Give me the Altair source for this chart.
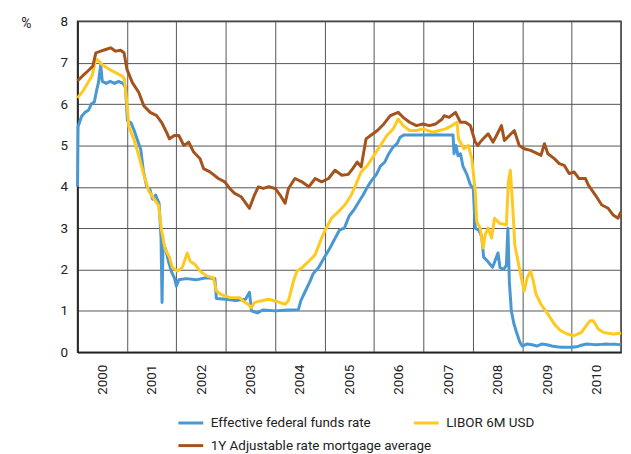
import altair as alt
import pandas as pd

# Effective federal funds rate
fed_t = [2000.00, 2000.01, 2000.08, 2000.15, 2000.22, 2000.28, 2000.34, 2000.38, 2000.42, 2000.47,
         2000.50, 2000.58, 2000.66, 2000.75, 2000.83, 2000.92, 2000.97, 2001.01, 2001.08, 2001.15,
         2001.22, 2001.28, 2001.33, 2001.40, 2001.46, 2001.52, 2001.58, 2001.65, 2001.69, 2001.71,
         2001.73, 2001.78, 2001.84, 2001.90, 2001.96, 2002.00, 2002.05, 2002.20, 2002.40, 2002.60,
         2002.78, 2002.81, 2003.00, 2003.20, 2003.40, 2003.48, 2003.52, 2003.64, 2003.75, 2004.00,
         2004.25, 2004.47, 2004.52, 2004.60, 2004.70, 2004.77, 2004.88, 2005.00, 2005.10, 2005.21,
         2005.30, 2005.40, 2005.50, 2005.60, 2005.70, 2005.78, 2005.87, 2005.95, 2006.05, 2006.13,
         2006.22, 2006.30, 2006.38, 2006.47, 2006.53, 2006.60, 2006.80, 2007.00, 2007.20, 2007.40,
         2007.60, 2007.62, 2007.66, 2007.70, 2007.75, 2007.80, 2007.88, 2007.95, 2008.01, 2008.05,
         2008.12, 2008.18, 2008.22, 2008.30, 2008.40, 2008.51, 2008.55, 2008.62, 2008.68, 2008.71,
         2008.74, 2008.78, 2008.83, 2008.88, 2008.95, 2009.00, 2009.10, 2009.20, 2009.30, 2009.40,
         2009.50, 2009.60, 2009.70, 2009.80, 2009.90, 2010.00, 2010.10, 2010.20, 2010.30, 2010.40,
         2010.50, 2010.60, 2010.70, 2010.80, 2010.90, 2011.00]
fed_v = [4.00, 5.45, 5.70, 5.80, 5.85, 6.00, 6.05, 6.30, 6.50, 6.95,
         6.55, 6.50, 6.55, 6.50, 6.55, 6.50, 6.40, 5.60, 5.55, 5.35,
         5.10, 4.90, 4.40, 4.00, 3.95, 3.70, 3.80, 3.60, 2.75, 1.20,
         2.60, 2.50, 2.20, 1.95, 1.80, 1.60, 1.75, 1.78, 1.75, 1.80,
         1.78, 1.30, 1.28, 1.25, 1.28, 1.45, 1.00, 0.95, 1.02, 1.00,
         1.02, 1.03, 1.25, 1.45, 1.70, 1.90, 2.05, 2.30, 2.50, 2.75,
         2.95, 3.00, 3.30, 3.45, 3.65, 3.80, 4.00, 4.15, 4.30, 4.50,
         4.60, 4.80, 4.95, 5.05, 5.20, 5.25, 5.25, 5.25, 5.26, 5.25,
         5.25, 4.80, 5.00, 4.75, 4.80, 4.50, 4.30, 4.05, 3.95, 3.00,
         2.95, 2.80, 2.30, 2.20, 2.05, 2.40, 2.05, 2.00, 2.10, 3.00,
         1.70, 1.00, 0.70, 0.50, 0.25, 0.15, 0.20, 0.18, 0.15, 0.20,
         0.18, 0.15, 0.13, 0.12, 0.12, 0.12, 0.13, 0.17, 0.20, 0.19,
         0.18, 0.19, 0.20, 0.19, 0.19, 0.18]

# LIBOR 6M USD
libor_t = [2000.00, 2000.10, 2000.20, 2000.30, 2000.36, 2000.40, 2000.50, 2000.64, 2000.77, 2000.90,
           2000.95, 2001.00, 2001.04, 2001.14, 2001.24, 2001.34, 2001.44, 2001.54, 2001.64, 2001.70,
           2001.77, 2001.86, 2001.92, 2002.02, 2002.12, 2002.22, 2002.28, 2002.38, 2002.48, 2002.62,
           2002.75, 2002.81, 2002.90, 2003.08, 2003.28, 2003.35, 2003.45, 2003.52, 2003.58, 2003.70,
           2003.87, 2004.00, 2004.20, 2004.27, 2004.37, 2004.44, 2004.54, 2004.68, 2004.81, 2004.94,
           2005.00, 2005.14, 2005.28, 2005.41, 2005.54, 2005.60, 2005.74, 2005.87, 2006.00, 2006.13,
           2006.26, 2006.39, 2006.49, 2006.59, 2006.72, 2006.86, 2006.99, 2007.18, 2007.32, 2007.45,
           2007.58, 2007.68, 2007.71, 2007.82, 2007.91, 2007.98, 2008.05, 2008.08, 2008.15, 2008.21,
           2008.25, 2008.31, 2008.38, 2008.44, 2008.54, 2008.68, 2008.72, 2008.76, 2008.81, 2008.85,
           2008.94, 2009.04, 2009.10, 2009.17, 2009.22, 2009.28, 2009.38, 2009.52, 2009.65, 2009.78,
           2009.91, 2010.05, 2010.20, 2010.30, 2010.37, 2010.44, 2010.54, 2010.64, 2010.84, 2011.00]
libor_v = [6.15, 6.30, 6.50, 6.70, 7.05, 7.08, 6.95, 6.84, 6.76, 6.68,
           6.60, 6.00, 5.45, 5.15, 4.75, 4.30, 3.90, 3.72, 3.55, 2.95,
           2.50, 2.30, 2.05, 1.96, 2.05, 2.40, 2.20, 2.12, 1.96, 1.84,
           1.80, 1.48, 1.40, 1.32, 1.32, 1.24, 1.16, 1.08, 1.20, 1.24,
           1.28, 1.24, 1.16, 1.25, 1.72, 1.96, 2.04, 2.20, 2.36, 2.76,
           2.92, 3.24, 3.40, 3.56, 3.80, 3.96, 4.36, 4.52, 4.76, 5.00,
           5.24, 5.40, 5.64, 5.48, 5.36, 5.36, 5.40, 5.32, 5.36, 5.40,
           5.48, 5.56, 5.16, 4.92, 5.00, 4.68, 3.88, 3.16, 3.00, 2.52,
           2.84, 3.00, 2.76, 3.24, 3.12, 3.08, 4.12, 4.40, 3.48, 2.60,
           2.04, 1.48, 1.80, 1.96, 1.75, 1.40, 1.16, 0.92, 0.68, 0.52,
           0.44, 0.40, 0.48, 0.65, 0.76, 0.76, 0.56, 0.48, 0.44, 0.46]

# 1Y Adjustable rate mortgage average
arm_t = [2000.00, 2000.10, 2000.21, 2000.31, 2000.37, 2000.47, 2000.57, 2000.67, 2000.77, 2000.87,
         2000.94, 2001.00, 2001.11, 2001.24, 2001.34, 2001.47, 2001.60, 2001.70, 2001.80, 2001.86,
         2001.96, 2002.05, 2002.15, 2002.25, 2002.35, 2002.48, 2002.55, 2002.68, 2002.85, 2002.98,
         2003.08, 2003.18, 2003.31, 2003.48, 2003.58, 2003.66, 2003.76, 2003.87, 2004.00, 2004.10,
         2004.20, 2004.27, 2004.40, 2004.54, 2004.68, 2004.81, 2004.94, 2005.08, 2005.21, 2005.35,
         2005.48, 2005.57, 2005.66, 2005.74, 2005.84, 2005.93, 2006.07, 2006.20, 2006.33, 2006.49,
         2006.59, 2006.72, 2006.86, 2006.99, 2007.12, 2007.25, 2007.38, 2007.42, 2007.52, 2007.65,
         2007.75, 2007.85, 2007.95, 2008.05, 2008.10, 2008.15, 2008.21, 2008.31, 2008.41, 2008.48,
         2008.58, 2008.64, 2008.74, 2008.84, 2008.94, 2009.04, 2009.17, 2009.31, 2009.38, 2009.45,
         2009.52, 2009.65, 2009.75, 2009.85, 2009.95, 2010.05, 2010.15, 2010.28, 2010.34, 2010.48,
         2010.61, 2010.74, 2010.84, 2010.94, 2011.00]
arm_v = [6.56, 6.68, 6.80, 6.92, 7.24, 7.28, 7.32, 7.36, 7.28, 7.30,
         7.24, 6.84, 6.52, 6.28, 5.96, 5.80, 5.72, 5.56, 5.32, 5.16,
         5.24, 5.24, 5.00, 5.08, 4.84, 4.68, 4.44, 4.36, 4.20, 4.12,
         3.96, 3.84, 3.76, 3.48, 3.80, 4.00, 3.96, 4.00, 3.96, 3.80,
         3.60, 3.96, 4.20, 4.12, 4.00, 4.20, 4.12, 4.20, 4.40, 4.28,
         4.30, 4.44, 4.60, 4.48, 5.16, 5.24, 5.36, 5.52, 5.72, 5.80,
         5.68, 5.56, 5.48, 5.52, 5.48, 5.52, 5.64, 5.72, 5.68, 5.80,
         5.56, 5.56, 5.48, 5.08, 5.00, 5.08, 5.16, 5.28, 5.08, 5.24,
         5.48, 5.12, 5.24, 5.36, 5.00, 4.92, 4.88, 4.80, 4.76, 5.04,
         4.80, 4.68, 4.56, 4.52, 4.32, 4.36, 4.20, 4.20, 4.04, 3.80,
         3.56, 3.48, 3.32, 3.24, 3.40]

series_names = ["Effective federal funds rate", "LIBOR 6M USD", "1Y Adjustable rate mortgage average"]
series_colors = ["#4A98D3", "#FFC91F", "#A4531C"]
year_ticks = list(range(2000, 2012))
y_ticks = list(range(0, 9))

rows = []
for name, ts, vs in zip(series_names, [fed_t, libor_t, arm_t], [fed_v, libor_v, arm_v]):
    for t, v in zip(ts, vs):
        rows.append({"t": t, "v": v, "series": name})
df = pd.DataFrame(rows)

FONT = "Roboto"

x_enc = alt.X("t:Q", scale=alt.Scale(domain=[2000, 2011], nice=False, zero=False),
              axis=alt.Axis(values=year_ticks, grid=True, ticks=False, labelAngle=-90,
                            labelOffset=25, labelPadding=12,
                            labelExpr="datum.value < 2011 ? '' + datum.value : ''",
                            title=None))
y_enc = alt.Y("v:Q", scale=alt.Scale(domain=[0, 8], nice=False),
              axis=alt.Axis(values=y_ticks, grid=True, ticks=False, labelPadding=10,
                            title="%", titleAngle=0, titleX=-52, titleY=2,
                            titleAlign="center", titleBaseline="middle"))


def legend(y, horizontal):
    kw = dict(title=None, orient="none", legendX=100, legendY=y, symbolType="stroke",
              symbolStrokeWidth=3, symbolSize=625, labelOffset=6, labelFontSize=13.5,
              labelFont=FONT, labelLimit=400, labelColor="#222")
    if horizontal:
        kw.update(direction="horizontal", columnPadding=36)
    return alt.Legend(**kw)


base = alt.Chart(df).mark_line(strokeWidth=3, strokeJoin="round")

top_rates = base.transform_filter(
    alt.FieldOneOfPredicate(field="series", oneOf=series_names[:2])
).encode(
    x=x_enc, y=y_enc,
    color=alt.Color("series:N", scale=alt.Scale(domain=series_names[:2], range=series_colors[:2]),
                    legend=legend(390, True)),
    order=alt.Order("t:Q"),
)

mortgage = base.transform_filter(
    alt.FieldEqualPredicate(field="series", equal=series_names[2])
).encode(
    x=x_enc, y=y_enc,
    stroke=alt.Stroke("series:N", scale=alt.Scale(domain=series_names[2:], range=series_colors[2:]),
                      legend=legend(413, False)),
    order=alt.Order("t:Q"),
)

chart = alt.layer(top_rates, mortgage).resolve_scale(
    color="independent", stroke="independent"
).properties(
    width=547, height=333, padding={"left": 12, "top": 5, "right": 0, "bottom": 2}
).configure_axis(
    gridColor="#555", gridWidth=1, gridOpacity=1, domainColor="#222", domainWidth=1.5,
    labelFont=FONT, labelFontSize=13.5, labelColor="#222", titleFont=FONT,
    titleFontSize=14, titleFontWeight="normal", titleColor="#222"
).configure_view(
    stroke="#333", strokeWidth=1.5
)

chart.save("out.html", embed_options={"renderer": "svg", "actions": False})
